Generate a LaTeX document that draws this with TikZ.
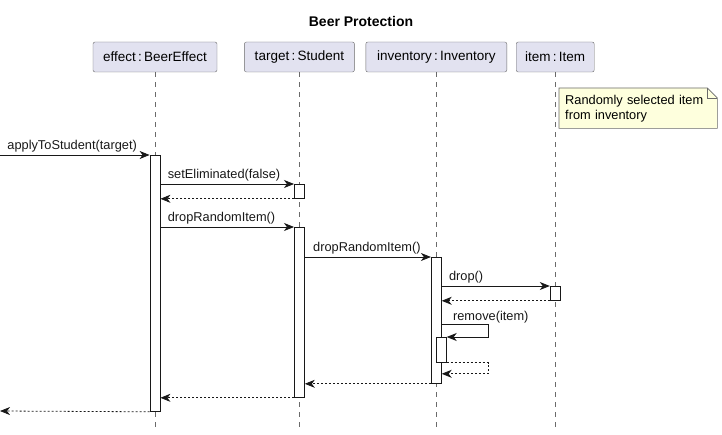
\documentclass[tikz,border=0pt]{standalone}
\usepackage{fontspec}
\setmainfont{Liberation Sans}
\usetikzlibrary{arrows.meta,positioning,calc}
\definecolor{partfill}{HTML}{E2E2F0}
\definecolor{partdraw}{HTML}{6A6A6A}
\definecolor{notefill}{HTML}{FEFFDD}
\definecolor{inkline}{HTML}{181818}
\pgfdeclarelayer{bg}
\pgfsetlayers{bg,main}
\tikzset{
  mypart/.style = {rectangle, rounded corners=2pt, draw=partdraw, fill=partfill, minimum height=30pt, inner sep=0pt, font=\fontsize{13.5}{15}\selectfont},
  mylife/.style = {draw=partdraw, dash pattern=on 5pt off 5pt, line width=0.6pt},
  myact/.style = {rectangle, draw=inkline, fill=white, minimum width=10pt, inner sep=0pt, line width=0.8pt},
  mymsg/.style = {-{Stealth[length=10pt,width=8pt,inset=3pt]}, line width=0.8pt, draw=inkline},
  myret/.style = {mymsg, dash pattern=on 2pt off 2pt},
  mylabel/.style = {font=\fontsize{12.8}{14}\selectfont, inner sep=0pt, anchor=base west, text=inkline},
  mynote/.style = {align=left, anchor=north west, minimum width=158pt, minimum height=40pt, text width=146pt, inner xsep=6pt, inner ysep=6pt, font=\fontsize{12.8}{15}\selectfont},
}

\begin{document}
\begin{tikzpicture}[x=1pt, y=-1pt]
\useasboundingbox (0,0) rectangle (722,435);
\node[font=\bfseries\fontsize{14}{16}\selectfont] (title) at (361,22) {Beer Protection};

% participants
\node[mypart, minimum width=124pt] (effect) at (155,57) {effect\,:\,BeerEffect};
\node[mypart, minimum width=110pt, right=27pt of effect] (target) {target\,:\,Student};
\node[mypart, minimum width=141pt, right=11pt of target] (inventory) {inventory\,:\,Inventory};
\node[mypart, minimum width=78pt, right=9pt of inventory] (item) {item\,:\,Item};

\foreach \p in {effect,target,inventory,item}{
  \coordinate (\p End) at (\p.south |- 0,428);
  \draw[mylife] (\p.south) -- (\p End);
}

% note
\node[mynote] (note) at (559,88) {Randomly selected item\\from inventory};
\begin{pgfonlayer}{bg}
\draw[draw=partdraw, fill=notefill, line width=0.6pt] (note.north west) -- ($(note.north east)+(-10,0)$) -- ($(note.north east)+(0,10)$) -- (note.south east) -- (note.south west) -- cycle;
\draw[draw=partdraw, line width=0.6pt] ($(note.north east)+(-10,0)$) -- ($(note.north east)+(-10,10)$) -- ($(note.north east)+(0,10)$);
\end{pgfonlayer}

% activations
\node[myact, anchor=north, minimum height=256pt] (actEffect) at (effect.south |- 0,155) {};
\node[myact, anchor=north, minimum height=14pt] (actTarget1) at (target.south |- 0,184) {};
\node[myact, anchor=north, minimum height=170pt] (actTarget2) at (target.south |- 0,227) {};
\node[myact, anchor=north, minimum height=126pt] (actInv) at (inventory.south |- 0,257) {};
\node[myact, anchor=north, minimum height=14pt] (actItem) at (item.south |- 0,286) {};
\node[myact, anchor=north, minimum height=25pt] (actInv2) at ($(inventory.south |- 0,337)+(5,0)$) {};

\coordinate (start) at (0,155);
\coordinate (finish) at (0,411);
\coordinate (selfBack) at ($(actInv.east |- actInv2.south)+(0,11)$);

% messages
\draw[mymsg] (start) -- node[mylabel, pos=0, xshift=7pt, yshift=5.5pt] {applyToStudent(target)} (actEffect.north west);
\draw[mymsg] (actEffect.east |- actTarget1.north) -- node[mylabel, pos=0, xshift=7pt, yshift=5pt] {setEliminated(false)} (actTarget1.north west);
\draw[myret] (actTarget1.south west) -- (actEffect.east |- actTarget1.south);
\draw[mymsg] (actEffect.east |- actTarget2.north) -- node[mylabel, pos=0, xshift=7pt, yshift=5pt] {dropRandomItem()} (actTarget2.north west);
\draw[mymsg] (actTarget2.east |- actInv.north) -- node[mylabel, pos=0, xshift=8pt, yshift=5pt] {dropRandomItem()} (actInv.north west);
\draw[mymsg] (actInv.east |- actItem.north) -- node[mylabel, pos=0, xshift=7pt, yshift=5pt] {drop()} (actItem.north west);
\draw[myret] (actItem.south west) -- (actInv.east |- actItem.south);
\draw[mymsg] (actInv.east |- 0,324) -- node[mylabel, pos=0, xshift=11pt, yshift=4pt] {remove(item)} ++(46.5,0) |- (actInv2.north east);
\draw[myret] (actInv2.south east) -- ++(41.5,0) |- (selfBack);
\draw[myret] (actInv.south west) -- (actTarget2.east |- actInv.south);
\draw[myret] (actTarget2.south west) -- (actEffect.east |- actTarget2.south);
\draw[myret] (actEffect.south west) -- (finish);
\end{tikzpicture}
\end{document}
